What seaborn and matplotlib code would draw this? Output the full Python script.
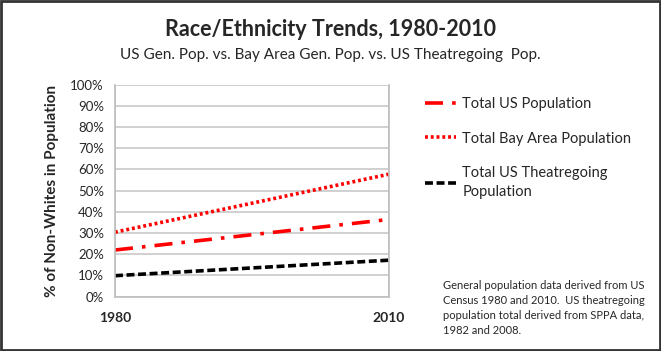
import matplotlib
matplotlib.use("Agg")
import matplotlib.pyplot as plt
import seaborn as sns
import pandas as pd
from matplotlib.patches import Rectangle

years = [1980, 2010]
us_pop = [22.0, 36.4]
bay_pop = [30.4, 57.7]
theatre_pop = [9.9, 17.2]
series_names = ["Total US Population", "Total Bay Area Population",
                "Total US Theatregoing\nPopulation"]
y_ticks = list(range(0, 101, 10))

sns.set_style("white")
plt.rcParams['font.family'] = ['Lato', 'DejaVu Sans']

fig = plt.figure(figsize=(6.61, 3.51), dpi=100)
ax = fig.add_axes([115/661, 1-296.7/351, (388.7-115)/661, (296.7-84.5)/351])

df = pd.DataFrame({"year": years * 3,
                   "value": us_pop + bay_pop + theatre_pop,
                   "series": [series_names[0]]*2 + [series_names[1]]*2 + [series_names[2]]*2})

styles = {
    series_names[0]: dict(color="#ff0000", dashes=(5, 2.5, 1, 2.5)),
    series_names[1]: dict(color="#ff0000", dashes=(0.8, 0.8)),
    series_names[2]: dict(color="#000000", dashes=(2.2, 1.0)),
}
for name in series_names:
    sub = df[df.series == name]
    st = styles[name]
    line = sns.lineplot(data=sub, x="year", y="value", ax=ax, color=st["color"],
                        lw=2.6, label=name, legend=False)
    line.get_lines()[-1].set_dashes(st["dashes"])

ax.set_xlim(1980, 2010)
ax.set_ylim(0, 100)
ax.set_yticks(y_ticks)
ax.set_yticklabels([f"{v}%" for v in y_ticks], fontsize=9.5)
ax.set_xticks(years)
ax.set_xticklabels([str(y) for y in years], fontsize=10, fontweight="bold")
ax.grid(axis="y", color="#c8c8c8", lw=1.2)
ax.grid(axis="x", color="#c8c8c8", lw=1.2)
for s in ["top"]:
    ax.spines[s].set_visible(False)
for s in ["left", "right", "bottom"]:
    ax.spines[s].set_color("#bdbdbd")
    ax.spines[s].set_linewidth(1.2)
ax.tick_params(axis="y", length=5, color="#bdbdbd", width=1.2, pad=3)
ax.tick_params(axis="x", length=5, color="#bdbdbd", width=1.2, pad=6)
ax.set_xlabel("")
ax.set_ylabel("% of Non-Whites in Population", fontsize=11, fontweight="bold", labelpad=8)

handles, labels = ax.get_legend_handles_labels()
leg = fig.legend(handles, labels, loc="upper left", bbox_to_anchor=(412/661, 1-84/351),
                 frameon=False, fontsize=10.5, handlelength=2.1, handletextpad=0.45,
                 labelspacing=1.4)
for t in leg.get_texts():
    t.set_linespacing(1.5)

fig.text(0.5, 1-30/351, "Race/Ethnicity Trends, 1980-2010", ha="center", va="center",
         fontsize=15.5, fontweight="bold")
fig.text(0.5, 1-55/351, "US Gen. Pop. vs. Bay Area Gen. Pop. vs. US Theatregoing  Pop.",
         ha="center", va="center", fontsize=11)
fig.text(443/661, 1-280/351,
         "General population data derived from US\nCensus 1980 and 2010.  US theatregoing\npopulation total derived from SPPA data,\n1982 and 2008.",
         ha="left", va="top", fontsize=8, linespacing=1.45)

fig.add_artist(Rectangle((0.002, 0.003), 0.996, 0.994, transform=fig.transFigure,
                         fill=False, edgecolor="#333333", lw=2))

fig.savefig("out.png", dpi=100)
